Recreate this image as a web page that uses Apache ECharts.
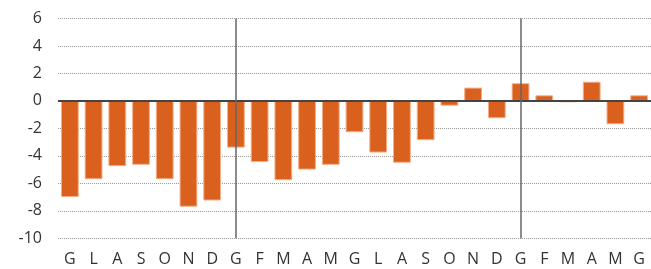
<!DOCTYPE html>
<html>
<head>
<meta charset="utf-8">
<script src="https://cdn.jsdelivr.net/npm/echarts@6/dist/echarts.min.js"></script>
<style>
  html, body { margin: 0; padding: 0; background: #fff; }
  #chart { width: 651px; height: 269px; }
</style>
</head>
<body>
<div id="chart"></div>
<script>
var months = ["G", "L", "A", "S", "O", "N", "D", "G", "F", "M", "A", "M", "G",
  "L", "A", "S", "O", "N", "D", "G", "F", "M", "A", "M", "G"];
var values = [-7.0, -5.7, -4.75, -4.65, -5.7, -7.7, -7.25, -3.4, -4.45, -5.77, -5.0, -4.65, -2.28,
  -3.76, -4.5, -2.86, -0.35, 0.97, -1.26, 1.29, 0.41, -0.1, 1.4, -1.7, 0.41];
var yearStarts = [7, 19];

var chartDom = document.getElementById("chart");
var myChart = echarts.init(chartDom);
var option;

option = {
  animation: false,
  grid: { left: 58, right: -2, top: 18.5, bottom: 30.7 },
  xAxis: {
    type: "category",
    data: months,
    axisLine: { show: false, onZero: false },
    axisTick: { show: false },
    axisLabel: {
      color: "#333",
      fontFamily: "Open Sans",
      fontSize: 16,
      margin: 13,
    },
  },
  yAxis: {
    type: "value",
    min: -10,
    max: 6,
    interval: 2,
    axisLine: { show: false },
    axisTick: { show: false },
    axisLabel: {
      color: "#333",
      fontFamily: "Open Sans",
      fontSize: 16,
      margin: 16,
    },
    splitLine: {
      lineStyle: { type: "dotted", color: "#999", width: 1 },
    },
  },
  series: [
    {
      type: "bar",
      data: values,
      barCategoryGap: "25%",
      itemStyle: {
        color: "#DA601E",
        borderColor: "#F3B08A",
        borderWidth: 1,
      },
      markLine: {
        silent: true,
        symbol: "none",
        label: { show: false },
        data: [
          { yAxis: 0, lineStyle: { color: "#444", width: 2, type: "solid" } },
        ].concat(yearStarts.map(function (i) {
          return { xAxis: i, lineStyle: { color: "#666", width: 1.5, type: "solid" } };
        })),
      },
    },
  ],
};

option && myChart.setOption(option);
</script>
</body>
</html>
